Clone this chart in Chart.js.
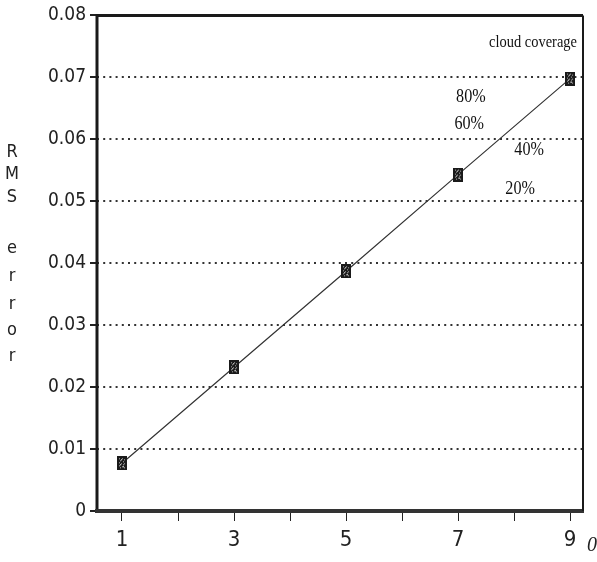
<!DOCTYPE html>
<html>
<head>
<meta charset="utf-8">
<script src="https://cdn.jsdelivr.net/npm/chart.js@4.4.1/dist/chart.umd.min.js"></script>
<style>
  html, body { margin: 0; padding: 0; background: #fff; }
  #wrap { width: 597px; height: 562px; }
</style>
</head>
<body>
<div id="wrap"><canvas id="myChart"></canvas></div>
<script>
// data
var xValues = [1, 3, 5, 7, 9];
var rmsError = [0.0077, 0.0232, 0.0387, 0.0543, 0.0698];
var xTicks = [1, 2, 3, 4, 5, 6, 7, 8, 9];
var yTicks = [0, 0.01, 0.02, 0.03, 0.04, 0.05, 0.06, 0.07, 0.08];
var coverageLabels = ['80%', '60%', '40%', '20%'];
var legendTitle = 'cloud coverage';
var yTitle = ['R', 'M', 'S', '', 'e', 'r', 'r', 'o', 'r'];

// little hatched box used as the point marker
function makeMarker() {
  var c = document.createElement('canvas');
  c.width = 10; c.height = 14;
  var g = c.getContext('2d');
  g.fillStyle = '#1a1a1a';
  g.fillRect(0, 0, 10, 14);
  g.fillStyle = '#b5b5b5';
  var holes = [[2,2],[5,2],[7,3],[3,4],[6,5],[2,6],[4,7],[7,7],[6,8],[2,9],[5,10],[3,11],[7,11]];
  holes.forEach(function (h) { g.fillRect(h[0], h[1], 1, 1); });
  g.fillStyle = '#fff';
  g.fillRect(4, 3, 1, 1); g.fillRect(3, 8, 1, 1); g.fillRect(6, 10, 1, 1);
  return c;
}

var narrow = "'Liberation Sans Narrow', 'DejaVu Sans Condensed', sans-serif";

var extras = {
  id: 'extras',
  afterDraw: function (chart) {
    var ctx = chart.ctx, a = chart.chartArea;
    var xs = chart.scales.x, ys = chart.scales.y;
    ctx.save();

    // frame
    ctx.strokeStyle = '#1a1a1a';
    ctx.lineWidth = 3;
    ctx.beginPath();
    ctx.moveTo(a.left, a.bottom); ctx.lineTo(a.left, a.top); ctx.lineTo(a.right, a.top);
    ctx.stroke();
    ctx.strokeStyle = '#333';
    ctx.lineWidth = 4;
    ctx.beginPath();
    ctx.moveTo(a.left - 2, a.bottom); ctx.lineTo(a.right + 1, a.bottom);
    ctx.stroke();
    ctx.lineWidth = 2;
    ctx.strokeStyle = '#1a1a1a';
    ctx.beginPath();
    ctx.moveTo(a.right, a.top); ctx.lineTo(a.right, a.bottom);
    ctx.stroke();

    // annotations (serif)
    function label(txt, xv, yv, size) {
      var px = xs.getPixelForValue(xv), py = ys.getPixelForValue(yv);
      ctx.font = size + "px 'Liberation Serif', serif";
      var w = ctx.measureText(txt).width * 0.85;
      ctx.fillStyle = '#fff';
      ctx.fillRect(px - w / 2 - 3, py - size / 2, w + 6, size);
      ctx.save();
      ctx.translate(px, py);
      ctx.scale(0.85, 1);
      ctx.fillStyle = '#111';
      ctx.textAlign = 'center';
      ctx.textBaseline = 'middle';
      ctx.fillText(txt, 0, 0);
      ctx.restore();
    }
    label(legendTitle, 8.34, 0.0756, 17);
    label(coverageLabels[0], 7.23, 0.0669, 19);
    label(coverageLabels[1], 7.20, 0.0624, 19);
    label(coverageLabels[2], 8.27, 0.0582, 19);
    label(coverageLabels[3], 8.11, 0.0519, 19);

    // stacked y title
    ctx.fillStyle = '#222';
    ctx.font = '18px ' + narrow;
    ctx.textAlign = 'center';
    ctx.textBaseline = 'middle';
    var yy = [152, 174, 197, 222, 248, 276, 304, 330, 356];
    yTitle.forEach(function (ch, i) { ctx.fillText(ch, 12, yy[i]); });

    // cut-off x title
    ctx.font = "italic 20px 'Liberation Serif', serif";
    ctx.textAlign = 'left';
    ctx.fillText('0', 587, 546);
    ctx.restore();
  }
};

var ctx = document.getElementById('myChart').getContext('2d');
var chart = new Chart(ctx, {
  type: 'scatter',
  data: {
    datasets: [{
      data: xValues.map(function (x, i) { return { x: x, y: rmsError[i] }; }),
      showLine: true,
      borderColor: '#333',
      borderWidth: 1.2,
      pointStyle: makeMarker(),
      pointRadius: 5
    }]
  },
  options: {
    responsive: true,
    maintainAspectRatio: false,
    animation: false,
    layout: { padding: { left: 0, top: 15, right: 14, bottom: 0 } },
    plugins: { legend: { display: false }, tooltip: { enabled: false } },
    scales: {
      x: {
        type: 'linear',
        min: 0.5536, max: 9.232,
        afterBuildTicks: function (s) { s.ticks = xTicks.map(function (v) { return { value: v }; }); },
        afterFit: function (s) { s.height = 51; },
        border: { display: false },
        grid: { drawOnChartArea: false, tickLength: 10, tickColor: '#222', tickWidth: 1 },
        ticks: {
          color: '#222', padding: 6, maxRotation: 0, autoSkip: false,
          font: { family: narrow, size: 22 },
          callback: function (v) { return v % 2 === 1 ? String(v) : ''; }
        }
      },
      y: {
        min: 0, max: 0.08,
        afterBuildTicks: function (s) { s.ticks = yTicks.map(function (v) { return { value: v }; }); },
        afterFit: function (s) { s.width = 97; },
        border: { display: false, dash: [2, 4.2] },
        grid: {
          tickLength: 7, tickColor: '#222', tickWidth: 2, lineWidth: 2,
          color: function (c) {
            var v = c.tick ? c.tick.value : 0;
            return (v < 0.001 || v > 0.079) ? 'rgba(0,0,0,0)' : '#333';
          }
        },
        ticks: {
          color: '#222', padding: 4,
          font: { family: narrow, size: 19 },
          callback: function (v) { return v === 0 ? '0' : v.toFixed(2); }
        }
      }
    }
  },
  plugins: [extras]
});
</script>
</body>
</html>
